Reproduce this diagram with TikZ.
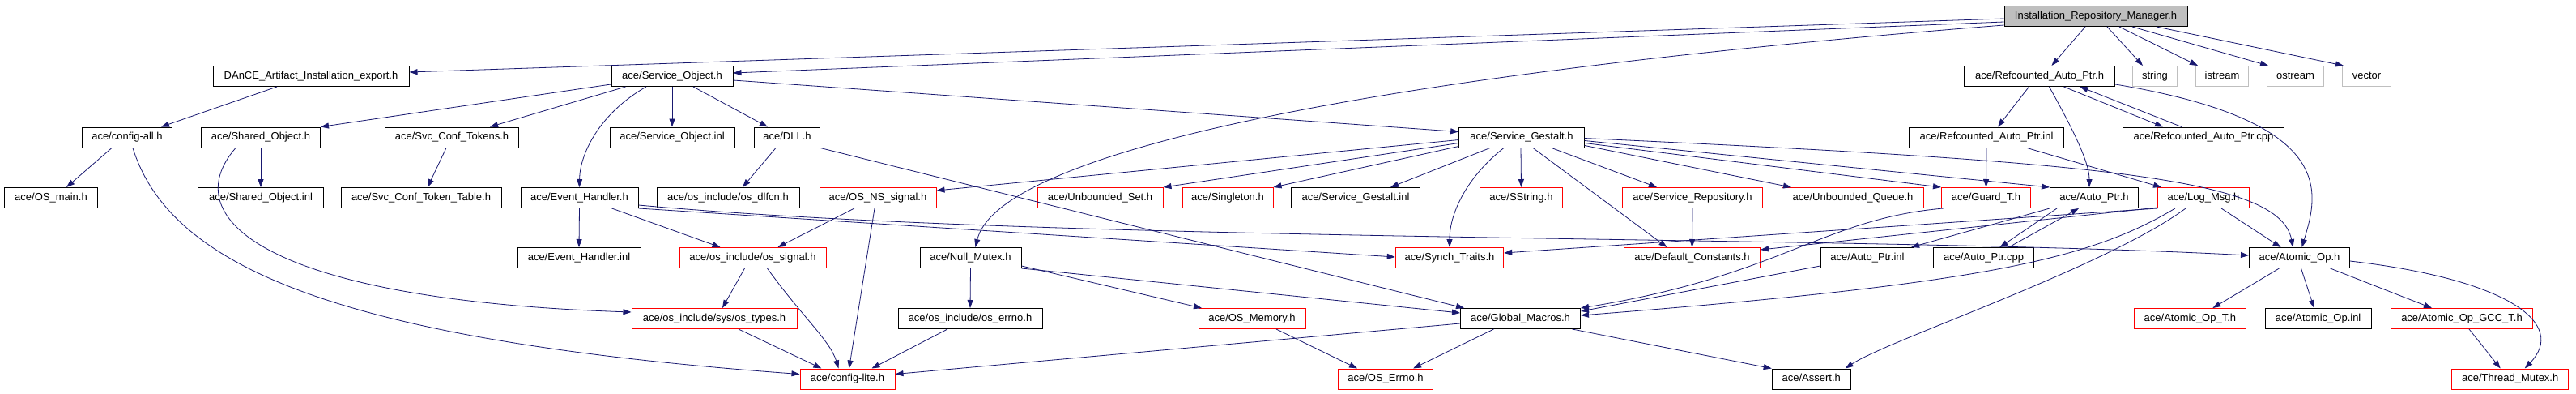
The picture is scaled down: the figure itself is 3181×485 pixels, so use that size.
\documentclass[tikz,border=0pt]{standalone}
\usepackage{fontspec}
\setmainfont{Liberation Sans}
\usetikzlibrary{arrows.meta,calc}
\definecolor{edgeblue}{HTML}{191970}
\definecolor{lgray}{HTML}{BFBFBF}
\begin{document}
\begin{tikzpicture}[x=1pt,y=-1pt,
  nb/.style={draw=black, line width=1pt, inner sep=0pt, minimum height=25pt,
    text height=9.5pt, text depth=2.8pt, font=\fontsize{13}{15}\selectfont, anchor=center},
  nr/.style={nb, draw=red},
  ng/.style={nb, draw=lgray},
  e/.style={draw=edgeblue, line width=0.8pt, -{Triangle[length=10pt,width=7pt]}}
]
\fill[white] (0,0) rectangle (3181,485);
\useasboundingbox (0,0) rectangle (3181,485);
% row 1
\node[nb, fill=lgray, minimum width=226pt] (irm) at (2588,20) {Installation\_Repository\_Manager.h};
% row 2
\node[nb, minimum width=242pt] (dance) at (384,94) {DAnCE\_Artifact\_Installation\_export.h};
\node[nb, minimum width=150pt] (so) at (830,94) {ace/Service\_Object.h};
\node[nb, minimum width=186pt] (rap) at (2518.5,94) {ace/Refcounted\_Auto\_Ptr.h};
\node[ng, minimum width=55pt] (string) at (2661,94) {string};
\node[ng, minimum width=65pt] (istream) at (2744,94) {istream};
\node[ng, minimum width=70pt] (ostream) at (2834.5,94) {ostream};
\node[ng, minimum width=60pt] (vector) at (2922.5,94) {vector};
% row 3
\node[nb, minimum width=111.5pt] (configall) at (157,169.5) {ace/config-all.h};
\node[nb, minimum width=147pt] (sharedobj) at (322,169.5) {ace/Shared\_Object.h};
\node[nb, minimum width=164.5pt] (svctokens) at (558,169.5) {ace/Svc\_Conf\_Tokens.h};
\node[nb, minimum width=154pt] (soinl) at (830,169.5) {ace/Service\_Object.inl};
\node[nb, minimum width=81pt] (dll) at (972,169.5) {ace/DLL.h};
\node[nb, minimum width=154.5pt] (sg) at (1879,169.5) {ace/Service\_Gestalt.h};
\node[nb, minimum width=191pt] (rapinl) at (2453,169.5) {ace/Refcounted\_Auto\_Ptr.inl};
\node[nb, minimum width=199pt] (rapcpp) at (2721,169.5) {ace/Refcounted\_Auto\_Ptr.cpp};
% row 4
\node[nb, minimum width=115pt] (osmain) at (63,244) {ace/OS\_main.h};
\node[nb, minimum width=154.5pt] (sharedobjinl) at (322,244) {ace/Shared\_Object.inl};
\node[nb, minimum width=198pt] (svctable) at (520,244) {ace/Svc\_Conf\_Token\_Table.h};
\node[nb, minimum width=145pt] (eh) at (715.5,244) {ace/Event\_Handler.h};
\node[nb, minimum width=176pt] (osdlfcn) at (899,244) {ace/os\_include/os\_dlfcn.h};
\node[nr, minimum width=144pt] (osnssignal) at (1084,244) {ace/OS\_NS\_signal.h};
\node[nr, minimum width=155pt] (unboundedset) at (1358.5,244) {ace/Unbounded\_Set.h};
\node[nr, minimum width=112pt] (singleton) at (1516,244) {ace/Singleton.h};
\node[nb, minimum width=158.6pt] (sginl) at (1674,244) {ace/Service\_Gestalt.inl};
\node[nr, minimum width=102pt] (sstring) at (1878.5,244) {ace/SString.h};
\node[nr, minimum width=173pt] (servicerepo) at (2090,244) {ace/Service\_Repository.h};
\node[nr, minimum width=175pt] (unboundedqueue) at (2288,244) {ace/Unbounded\_Queue.h};
\node[nr, minimum width=110pt] (guardt) at (2452.5,244) {ace/Guard\_T.h};
\node[nb, minimum width=109pt] (autoptr) at (2586,244) {ace/Auto\_Ptr.h};
\node[nr, minimum width=112.5pt] (logmsg) at (2721,244) {ace/Log\_Msg.h};
% row 5
\node[nb, minimum width=152pt] (ehinl) at (715,318) {ace/Event\_Handler.inl};
\node[nr, minimum width=181pt] (ossignal) at (929.5,318) {ace/os\_include/os\_signal.h};
\node[nb, minimum width=125pt] (nullmutex) at (1198.5,318) {ace/Null\_Mutex.h};
\node[nr, minimum width=133.5pt] (synchtraits) at (1790,318) {ace/Synch\_Traits.h};
\node[nr, minimum width=168pt] (defaultconst) at (2089.5,318) {ace/Default\_Constants.h};
\node[nb, minimum width=115.5pt] (autoptrinl) at (2306,318) {ace/Auto\_Ptr.inl};
\node[nb, minimum width=124pt] (autoptrcpp) at (2449.5,318) {ace/Auto\_Ptr.cpp};
\node[nb, minimum width=124pt] (atomicop) at (2839.5,318) {ace/Atomic\_Op.h};
% row 6
\node[nr, minimum width=204pt] (ostypes) at (882,393) {ace/os\_include/sys/os\_types.h};
\node[nb, minimum width=178pt] (oserrno) at (1198,393) {ace/os\_include/os\_errno.h};
\node[nr, minimum width=132pt] (osmemory) at (1546,393) {ace/OS\_Memory.h};
\node[nb, minimum width=148pt] (globalmacros) at (1877.5,393) {ace/Global\_Macros.h};
\node[nr, minimum width=138pt] (atomicopt) at (2704.4,393) {ace/Atomic\_Op\_T.h};
\node[nb, minimum width=131pt] (atomicopinl) at (2862.6,393) {ace/Atomic\_Op.inl};
\node[nr, minimum width=175pt] (atomicopgcc) at (3040,393) {ace/Atomic\_Op\_GCC\_T.h};
% row 7
\node[nr, minimum width=117pt] (configlite) at (1046.5,467.5) {ace/config-lite.h};
\node[nr, minimum width=116.5pt] (oserrno2) at (1711,467.5) {ace/OS\_Errno.h};
\node[nb, minimum width=97pt] (assert) at (2236.7,467.5) {ace/Assert.h};
\node[nr, minimum width=144pt] (threadmutex) at (3099.7,467.5) {ace/Thread\_Mutex.h};

% edges from IRM
\draw[e] ($(irm.west)+(0,3)$) -- ($(dance.east)+(0,-5)$);
\draw[e] ($(irm.west)+(0,7)$) -- ($(so.east)+(0,-4)$);
\draw[e] ($(irm.west)+(0,11)$) .. controls (1600,100) and (1230,200) .. ($(nullmutex.north)+(6,0)$);
\draw[e] ($(irm.south)+(-13,0)$) -- ($(rap.north)+(15,0)$);
\draw[e] ($(irm.south)+(14,0)$) -- ($(string.north)+(-15,0)$);
\draw[e] ($(irm.south)+(29,0)$) -- ($(istream.north)+(-30,0)$);
\draw[e] ($(irm.south)+(45,0)$) -- ($(ostream.north west)+(2,0)$);
\draw[e] ($(irm.south)+(75,0)$) -- ($(vector.north west)+(2,0)$);
% DAnCE, config-all
\draw[e] ($(dance.south)+(-42,0)$) -- ($(configall.north)+(42,0)$);
\draw[e] ($(configall.south)+(-19,0)$) -- ($(osmain.north)+(19,0)$);
\draw[e] ($(configall.south)+(7,0)$) .. controls (210,330) and (420,420) .. ($(configlite.west)+(0,-6)$);
% Shared_Object, Svc_Conf_Tokens
\draw[e] (sharedobj.south) -- (sharedobjinl.north);
\draw[e] ($(sharedobj.south)+(-31,0)$) .. controls (215,270) and (330,370) .. ($(ostypes.west)+(0,-8)$);
\draw[e] ($(svctokens.south)+(-7,0)$) -- ($(svctable.north)+(8,0)$);
% Service_Object
\draw[e] ($(so.west)+(0,10)$) -- (sharedobj.north east);
\draw[e] ($(so.south west)+(18,0)$) -- ($(svctokens.north)+(47,0)$);
\draw[e] ($(so.south)+(-32,0)$) .. controls (740,140) and (716,190) .. (eh.north);
\draw[e] (so.south) -- (soinl.north);
\draw[e] ($(so.south)+(26,0)$) -- ($(dll.north)+(-24,0)$);
\draw[e] ($(so.east)+(0,5)$) -- ($(sg.west)+(0,-7)$);
% DLL
\draw[e] ($(dll.south)+(-14,0)$) -- ($(osdlfcn.north)+(18,0)$);
\draw[e] (dll.south east) -- ($(globalmacros.north west)+(5,0)$);
% Event_Handler
\draw[e] (eh.south) -- (ehinl.north);
\draw[e] ($(eh.south)+(40,0)$) -- ($(ossignal.north)+(-40,0)$);
\draw[e] (eh.south east) -- ($(synchtraits.west)+(0,-1)$);
\draw[e] ($(eh.east)+(0,9)$) .. controls (1300,300) and (2300,290) .. ($(atomicop.west)+(0,-3)$);
% Service_Gestalt
\draw[e] ($(sg.west)+(0,3)$) -- ($(osnssignal.east)+(0,-9)$);
\draw[e] ($(sg.west)+(0,7)$) -- (unboundedset.north east);
\draw[e] ($(sg.west)+(0,11)$) -- (singleton.north east);
\draw[e] ($(sg.south)+(-39,0)$) -- ($(sginl.north)+(43,0)$);
\draw[e] ($(sg.south)+(-22,0)$) .. controls (1815,215) and (1790,260) .. (synchtraits.north);
\draw[e] ($(sg.south)+(-1,0)$) -- (sstring.north);
\draw[e] ($(sg.south)+(14,0)$) -- ($(defaultconst.north)+(-31,0)$);
\draw[e] ($(sg.south)+(37,0)$) -- ($(servicerepo.north)+(-44,0)$);
\draw[e] ($(sg.east)+(0,10)$) -- ($(unboundedqueue.north)+(-76,0)$);
\draw[e] ($(sg.east)+(0,7)$) -- (guardt.north west);
\draw[e] ($(sg.east)+(0,4)$) -- (autoptr.north west);
\draw[e] ($(sg.east)+(0,1)$) .. controls (2600,200) and (2815,220) .. ($(atomicop.north)+(-8,0)$);
% signal headers
\draw[e] ($(osnssignal.south)+(-29,0)$) -- ($(ossignal.north)+(31,0)$);
\draw[e] ($(osnssignal.south)+(-4,0)$) -- ($(configlite.north)+(2,0)$);
\draw[e] ($(ossignal.south)+(-10,0)$) -- ($(ostypes.north)+(10,0)$);
\draw[e] ($(ossignal.south)+(18,0)$) .. controls (990,390) and (1025,420) .. ($(configlite.north)+(-11,0)$);
\draw[e] ($(ostypes.south)+(30,0)$) -- ($(configlite.north)+(-32,0)$);
% Null_Mutex
\draw[e] (nullmutex.south) -- (oserrno.north);
\draw[e] ($(nullmutex.east)+(0,10)$) -- ($(osmemory.north)+(-62,0)$);
\draw[e] (nullmutex.south east) -- ($(globalmacros.west)+(0,-7)$);
\draw[e] ($(oserrno.south)+(-28,0)$) -- ($(configlite.north)+(30,0)$);
\draw[e] ($(osmemory.south)+(30,0)$) -- ($(oserrno2.north)+(-35,0)$);
% Global_Macros
\draw[e] ($(globalmacros.west)+(0,6)$) -- ($(configlite.east)+(0,-6)$);
\draw[e] ($(globalmacros.south)+(-33,0)$) -- ($(oserrno2.north)+(34,0)$);
\draw[e] ($(globalmacros.south)+(64,0)$) -- (assert.north west);
\draw[e] (servicerepo.south) -- (defaultconst.north);
% Refcounted_Auto_Ptr
\draw[e] ($(rap.south)+(-13,0)$) -- ($(rapinl.north)+(14,0)$);
\draw[e] ($(rap.south)+(30,0)$) -- ($(rapcpp.north)+(-50,0)$);
\draw[e] ($(rapcpp.north)+(-27,0)$) -- ($(rap.south)+(50,0)$);
\draw[e] ($(rap.south)+(12,0)$) .. controls (2560,160) and (2580,200) .. ($(autoptr.north)+(-6,0)$);
\draw[e] ($(rap.east)+(0,10)$) .. controls (2890,150) and (2862,240) .. ($(atomicop.north)+(3,0)$);
\draw[e] (rapinl.south) -- (guardt.north);
\draw[e] ($(rapinl.south)+(50,0)$) -- ($(logmsg.north)+(-52,0)$);
% Guard_T, Auto_Ptr
\draw[e] ($(guardt.south west)+(3,0)$) .. controls (2250,270) and (2200,340) .. (globalmacros.north east);
\draw[e] (autoptr.south west) -- ($(autoptrinl.north)+(54,0)$);
\draw[e] ($(autoptr.south)+(-46,0)$) -- ($(autoptrcpp.north)+(20,0)$);
\draw[e] ($(autoptrcpp.north)+(31,0)$) -- ($(autoptr.south)+(-19,0)$);
\draw[e] ($(autoptrinl.west)+(0,10)$) -- ($(globalmacros.east)+(0,-9)$);
% Log_Msg
\draw[e] (logmsg.south west) -- ($(synchtraits.east)+(0,-6)$);
\draw[e] ($(logmsg.south west)+(0,-1)$) -- ($(defaultconst.east)+(0,-10)$);
\draw[e] ($(logmsg.south)+(-35,0)$) .. controls (2580,320) and (2450,350) .. ($(globalmacros.east)+(0,-4)$);
\draw[e] ($(logmsg.south)+(-22,0)$) .. controls (2600,330) and (2330,420) .. ($(assert.north)+(42,0)$);
\draw[e] ($(logmsg.south)+(22,0)$) -- ($(atomicop.north)+(-23,0)$);
% Atomic_Op
\draw[e] ($(atomicop.south)+(-25,0)$) -- ($(atomicopt.north)+(28,0)$);
\draw[e] ($(atomicop.south)+(2,0)$) -- ($(atomicopinl.north)+(-5,0)$);
\draw[e] ($(atomicop.south)+(38,0)$) -- ($(atomicopgcc.north)+(-37,0)$);
\draw[e] ($(atomicop.east)+(0,4)$) .. controls (3100,345) and (3170,400) .. ($(threadmutex.north)+(18,0)$);
\draw[e] ($(atomicopgcc.south)+(9,0)$) -- ($(threadmutex.north)+(-12,0)$);
\end{tikzpicture}
\end{document}
